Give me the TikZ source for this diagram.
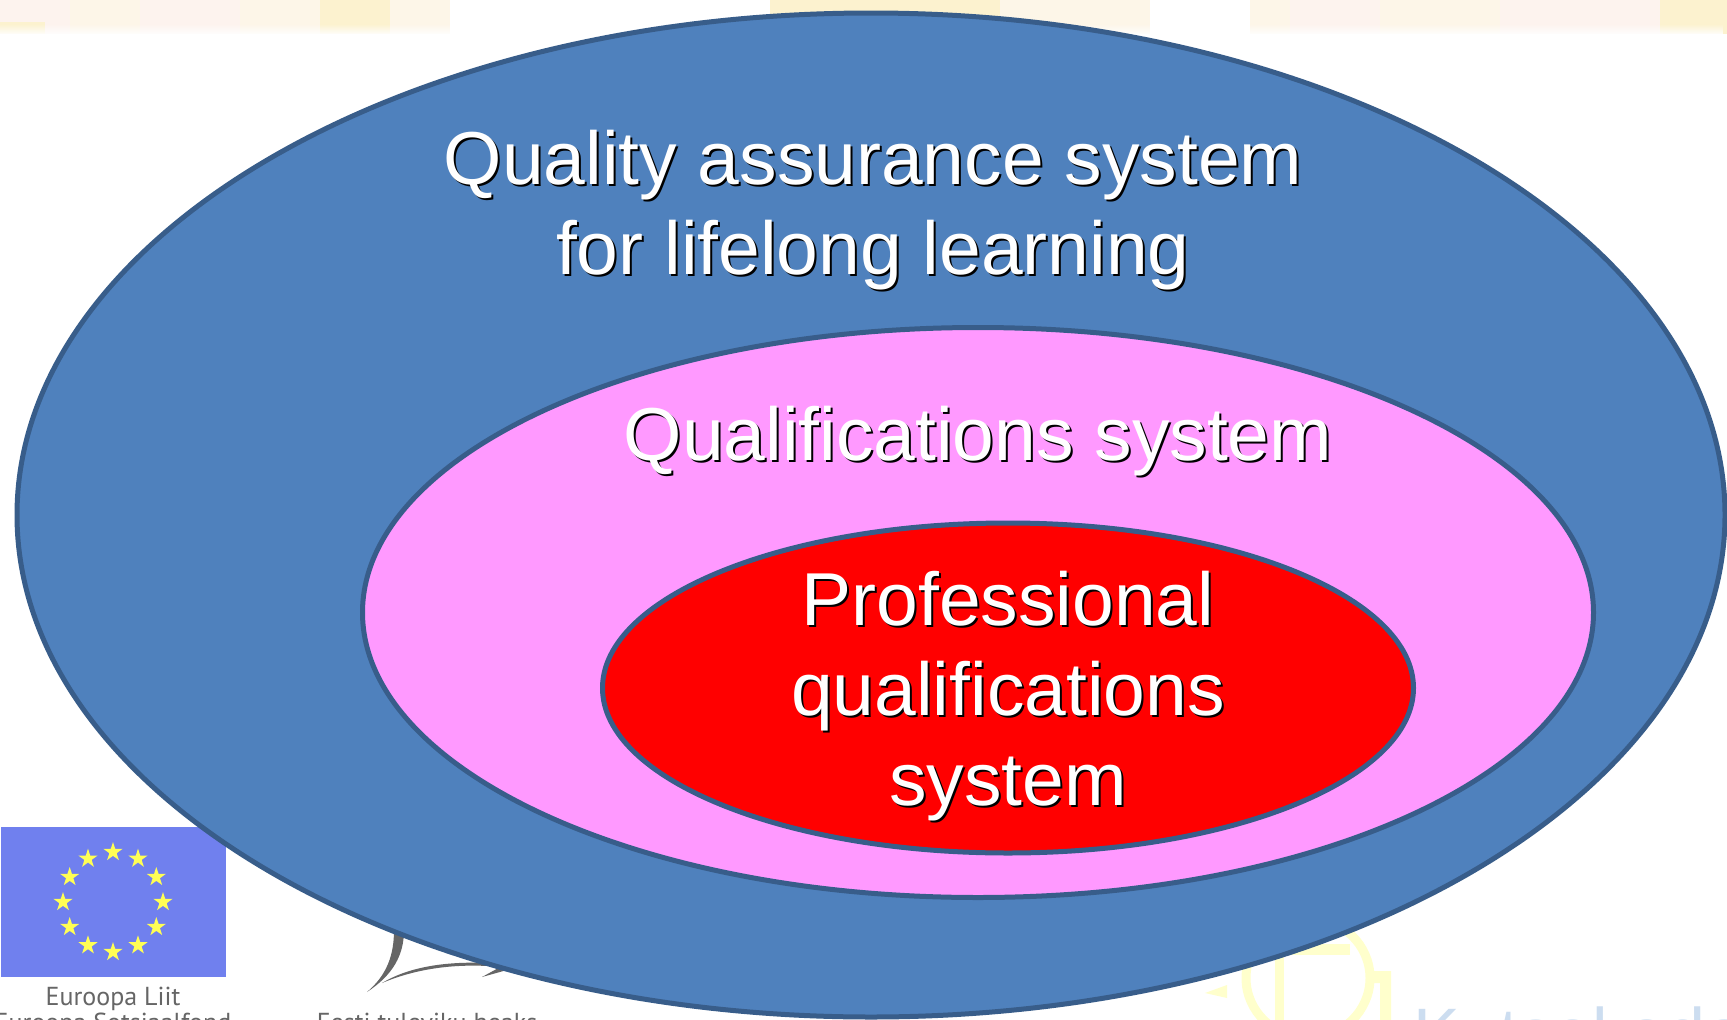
\documentclass[tikz,border=0pt]{standalone}
\usepackage{fontspec}
\setmainfont{Liberation Sans}
\newfontfamily\logofont{PT Sans}
\usetikzlibrary{shapes.geometric,fadings}
\definecolor{outer-blue}{HTML}{4F81BD}
\definecolor{rim-blue}{HTML}{385D8A}
\definecolor{mid-pink}{HTML}{FF99FF}
\definecolor{flag-blue}{HTML}{7080EE}
\definecolor{star-yellow}{HTML}{FFFF55}
\definecolor{logo-gray}{HTML}{666666}
\definecolor{logo-yellow}{HTML}{FFFFCC}
\definecolor{logo-blue}{HTML}{CCDDF0}
\definecolor{strip-cream}{HTML}{FDF6E8}
\definecolor{strip-pink}{HTML}{FDF3EE}
\definecolor{strip-yellow}{HTML}{FCF2CF}

\begin{document}
\begin{tikzpicture}[x=1pt,y=-1pt,thick]
  \tikzstyle{oval} = [ellipse, draw=rim-blue, line width=5pt, inner sep=0pt]
  \tikzstyle{slide} = [align=center, font=\fontsize{75}{90}\selectfont]
  \tikzstyle{logotext} = [color=logo-gray, font=\logofont\fontsize{26}{30}\selectfont, anchor=base]
  % White text with a small black drop shadow behind it.
    \def\slidetext#1#2#3#4{%
      \node[slide, color=black] (#1shadow) at (#2+2,#3+2) {#4};
      \node[slide, color=white] (#1) at (#2,#3) {#4};}
  \useasboundingbox (0,0) rectangle (1727,1020);
  \clip (0,0) rectangle (1727,1020);
  \fill[white] (0,0) rectangle (1727,1020);
% Top strip of the slide background.
    \fill[strip-cream] (0,0) rectangle (1727,34);
    \foreach \xa/\xb/\c in {0/70/strip-pink, 140/240/strip-pink,
        320/390/strip-yellow, 450/770/white, 770/1000/strip-yellow, 1150/1250/white,
        1290/1380/strip-pink, 1500/1660/strip-pink, 1660/1727/strip-yellow}
      \fill[\c] (\xa,0) rectangle (\xb,34);
    \fill[strip-yellow] (0,22) rectangle (45,34);
    \fill[white, path fading=north] (0,24) rectangle (1727,35);
% EU flag and its caption.
    \fill[flag-blue] (1,827) rectangle (226,977);
    \foreach \i in {1,...,12}
      \node[star, star points=5, star point ratio=2.6, fill=star-yellow, inner sep=0pt,
            minimum size=20pt] (star\i) at ({113+50*sin(30*\i)},{902-50*cos(30*\i)}) {};
    \node[logotext] (eulabel) at (113,1005) {Euroopa Liit};
    \node[logotext] (fundlabel) at (113,1031) {Euroopa Sotsiaalfond};
% Wing logo, mostly hidden by the big oval.
    \fill[logo-gray] (394,930) .. controls (394,955) and (387,975) .. (367,992)
      .. controls (393,975) and (404,955) .. (404,930) -- cycle;
    \fill[logo-gray] (382,983) .. controls (407,968) and (442,961) .. (488,963)
      -- (488,966) .. controls (448,964) and (413,970) .. (382,983) -- cycle;
    \fill[logo-gray] (482,977) -- (502,966) -- (507,970) -- cycle;
    \node[logotext] (futurelabel) at (427,1031) {Eesti tuleviku heaks};
% Pale logo at the bottom right.
    \draw[logo-yellow, line width=9pt] (1308,978) ellipse (62 and 60);
    \draw[logo-yellow, line width=9pt] (1279,930) -- (1279,1020);
    \draw[logo-yellow, line width=11pt] (1279,949) -- (1350,949);
    \fill[logo-yellow] (1205,993) -- (1227,985) -- (1227,998) -- cycle;
    \fill[logo-yellow] (1373,971) -- (1391,971) -- (1391,1020) -- (1380,1020) -- (1380,983) -- (1373,983) -- cycle;
    \node[color=logo-blue, font=\fontsize{70}{70}\selectfont, anchor=base west] (kutselabel) at (1410,1057) {Kutsekoda};
% Three nested ovals.
    \node[oval, fill=outer-blue, minimum width=1708pt, minimum height=1004pt] (quality) at (871,515) {};
    \node[oval, fill=mid-pink, minimum width=1231pt, minimum height=570pt] (qualif) at (978,612.5) {};
    \node[oval, fill=red, minimum width=811pt, minimum height=330pt] (prof) at (1008,688) {};
% Labels.
    \slidetext{qualitylabel}{873}{210}{Quality assurance system\\for lifelong learning}
    \slidetext{qualiflabel}{978}{441}{Qualifications system}
    \slidetext{proflabel}{1008}{696}{Professional\\qualifications\\system}
\end{tikzpicture}
\end{document}
